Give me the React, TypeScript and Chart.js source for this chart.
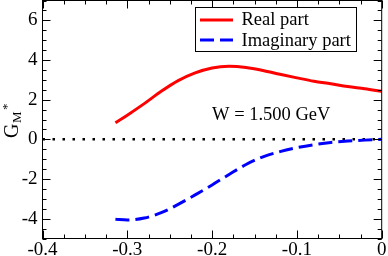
import React, { useEffect, useRef } from "react";
import { Chart, registerables } from "chart.js";

Chart.register(...registerables);

// ---- data ----
const qValues = [-0.314, -0.3, -0.28, -0.26, -0.24, -0.22, -0.2, -0.18, -0.16, -0.14, -0.12, -0.1, -0.08, -0.06, -0.04, -0.02, 0];
const realPart = [0.84, 1.22, 1.8, 2.42, 2.96, 3.35, 3.6, 3.68, 3.62, 3.47, 3.28, 3.1, 2.93, 2.8, 2.66, 2.55, 2.42];
const imagPart = [-4.03, -4.07, -3.97, -3.7, -3.28, -2.8, -2.3, -1.77, -1.27, -0.88, -0.62, -0.42, -0.27, -0.16, -0.09, -0.04, 0];
const zeroLineX = [-0.4, 0];
const zeroLineY = [0, 0];
const xTicks = [-0.4, -0.3, -0.2, -0.1, 0];
const yTicks = [-4, -2, 0, 2, 4, 6];
const xRange = [-0.4, 0];
const yRange = [-5, 7];
const xMinorStep = 0.025;
const yMinorStep = 0.5;
const seriesLabels = ["Real part", "Imaginary part"];
const annotationText = "W = 1.500 GeV";
const annotationPos = [-0.2, 0.95];

const FONT = "'Liberation Serif', 'Times New Roman', serif";

function stepsBetween(min: number, max: number, step: number): number[] {
  const n = Math.round((max - min) / step);
  const out: number[] = [];
  for (let i = 0; i <= n; i++) out.push(min + i * step);
  return out;
}

const framePlugin = {
  id: "frameTicks",
  afterDatasetsDraw(chart: any) {
    const { ctx, chartArea: a, scales } = chart;
    const xs = scales.x;
    const ys = scales.y;
    ctx.save();
    ctx.strokeStyle = "#000";
    ctx.lineWidth = 1;
    ctx.strokeRect(a.left, a.top, a.right - a.left, a.bottom - a.top);
    ctx.beginPath();
    const xMajor = new Set(xTicks.map((v) => v.toFixed(4)));
    for (const v of stepsBetween(xRange[0], xRange[1], xMinorStep)) {
      const px = Math.round(xs.getPixelForValue(v)) + 0.5;
      const len = xMajor.has(v.toFixed(4)) ? 8 : 4;
      ctx.moveTo(px, a.bottom);
      ctx.lineTo(px, a.bottom - len);
      ctx.moveTo(px, a.top);
      ctx.lineTo(px, a.top + len);
    }
    const yMajor = new Set(yTicks.map((v) => v.toFixed(4)));
    for (const v of stepsBetween(yRange[0], yRange[1], yMinorStep)) {
      const py = Math.round(ys.getPixelForValue(v)) + 0.5;
      const len = yMajor.has(v.toFixed(4)) ? 8 : 4;
      ctx.moveTo(a.left, py);
      ctx.lineTo(a.left + len, py);
      ctx.moveTo(a.right, py);
      ctx.lineTo(a.right - len, py);
    }
    ctx.stroke();
    ctx.restore();
  },
  afterDraw(chart: any) {
    const { ctx, scales } = chart;
    const ds = chart.data.datasets;
    ctx.save();
    // legend box
    ctx.fillStyle = "#fff";
    ctx.fillRect(195.5, 7.5, 161, 44);
    ctx.strokeStyle = "#000";
    ctx.lineWidth = 1;
    ctx.strokeRect(195.5, 7.5, 161, 44);
    const rows = [
      { y: 20, base: 24.5 },
      { y: 40, base: 45.5 },
    ];
    rows.forEach((r, i) => {
      const d = ds[i];
      ctx.beginPath();
      ctx.strokeStyle = d.borderColor;
      ctx.lineWidth = d.borderWidth;
      ctx.setLineDash(d.borderDash || []);
      ctx.moveTo(200, r.y);
      ctx.lineTo(233, r.y);
      ctx.stroke();
      ctx.setLineDash([]);
      ctx.fillStyle = "#000";
      ctx.font = `18.5px ${FONT}`;
      ctx.textAlign = "left";
      ctx.textBaseline = "alphabetic";
      ctx.fillText(d.label, 241.5, r.base);
    });
    // annotation
    ctx.fillStyle = "#000";
    ctx.font = `18.5px ${FONT}`;
    ctx.textAlign = "left";
    ctx.textBaseline = "alphabetic";
    ctx.fillText(annotationText, scales.x.getPixelForValue(annotationPos[0]), scales.y.getPixelForValue(annotationPos[1]));
    // y-axis title G_M^*
    ctx.translate(18, 138);
    ctx.rotate(-Math.PI / 2);
    ctx.font = `20px ${FONT}`;
    ctx.fillText("G", 0, 0);
    ctx.font = `13px ${FONT}`;
    ctx.fillText("M", 15, 3);
    ctx.fillText("*", 28, -7);
    ctx.restore();
  },
};

export default function App() {
  const ref = useRef<HTMLCanvasElement | null>(null);
  useEffect(() => {
    if (!ref.current) return;
    const chart = new Chart(ref.current, {
      type: "line",
      data: {
        datasets: [
          {
            label: seriesLabels[0],
            data: qValues.map((x, i) => ({ x, y: realPart[i] })),
            borderColor: "#ff0000",
            borderWidth: 3,
            pointRadius: 0,
            cubicInterpolationMode: "monotone",
            fill: false,
          },
          {
            label: seriesLabels[1],
            data: qValues.map((x, i) => ({ x, y: imagPart[i] })),
            borderColor: "#0000ff",
            borderWidth: 3,
            borderDash: [14, 6],
            pointRadius: 0,
            cubicInterpolationMode: "monotone",
            fill: false,
          },
          {
            label: "zero",
            data: zeroLineX.map((x, i) => ({ x, y: zeroLineY[i] })),
            borderColor: "#000",
            borderWidth: 2.5,
            borderDash: [2.5, 7.5],
            pointRadius: 0,
            fill: false,
          },
        ],
      },
      options: {
        animation: false,
        responsive: false,
        events: [],
        layout: { padding: { top: 0.5, right: 6.3, left: 0, bottom: 0 } },
        plugins: { legend: { display: false }, tooltip: { enabled: false } },
        scales: {
          x: {
            type: "linear",
            min: xRange[0],
            max: xRange[1],
            grid: { display: false, drawTicks: false },
            border: { display: false },
            afterBuildTicks: (s: any) => {
              s.ticks = xTicks.map((v) => ({ value: v }));
            },
            afterFit: (s: any) => {
              s.height = 17.5;
              s.paddingLeft = 0;
              s.paddingRight = 0;
              s.paddingTop = 0;
              s.paddingBottom = 0;
            },
            ticks: {
              padding: 0,
              maxRotation: 0,
              autoSkip: false,
              color: "#000",
              font: { family: FONT, size: 19 },
              callback: (v: any) => (Number(v) === 0 ? "0" : Number(v).toFixed(1)),
            },
          },
          y: {
            type: "linear",
            min: yRange[0],
            max: yRange[1],
            grid: { display: false, drawTicks: false },
            border: { display: false },
            afterBuildTicks: (s: any) => {
              s.ticks = yTicks.map((v) => ({ value: v }));
            },
            afterFit: (s: any) => {
              s.width = 42.5;
              s.paddingLeft = 0;
              s.paddingRight = 0;
              s.paddingTop = 0;
              s.paddingBottom = 0;
            },
            ticks: {
              padding: 5,
              autoSkip: false,
              color: "#000",
              font: { family: FONT, size: 19 },
              callback: (v: any) => String(v),
            },
          },
        },
      },
      plugins: [framePlugin],
    } as any);
    return () => chart.destroy();
  }, []);
  return (
    <div style={{ position: "absolute", left: 0, top: 0, width: 388, height: 256, background: "#fff" }}>
      <canvas ref={ref} width={388} height={256} style={{ display: "block" }} />
    </div>
  );
}
